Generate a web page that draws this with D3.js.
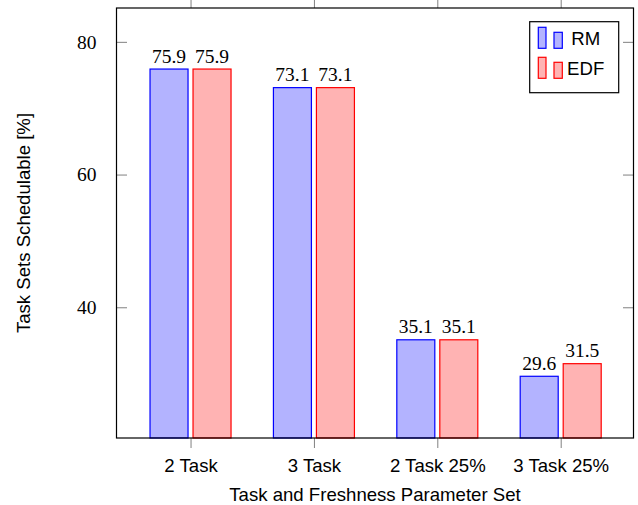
<!DOCTYPE html>
<html>
<head>
<meta charset="utf-8">
<script src="https://cdn.jsdelivr.net/npm/d3@7"></script>
<style>
  body { margin: 0; background: #fff; }
  svg { display: block; }
</style>
</head>
<body>
<div id="chart"></div>
<script>
// chart data
const categories = ['2 Task', '3 Task', '2 Task 25%', '3 Task 25%'];
const rmValues = [75.9, 73.1, 35.1, 29.6];
const edfValues = [75.9, 73.1, 35.1, 31.5];
const yTicks = [40, 60, 80];
const seriesNames = ['RM', 'EDF'];

const W = 638, H = 505;
const margin = {top: 8, right: 4.5, bottom: 67, left: 116.5};
const width = W - margin.left - margin.right;
const height = H - margin.top - margin.bottom;

const svg = d3.select('#chart')
    .append('svg')
    .attr('width', W)
    .attr('height', H);

const g = svg.append('g')
    .attr('transform', `translate(${margin.left},${margin.top})`);

const x = d3.scaleLinear()
    .domain([-0.6, categories.length - 1 + 0.59])
    .range([0, width]);

const y = d3.scaleLinear()
    .domain([20.3, 85.1])
    .range([height, 0]);

const series = [
    {name: seriesNames[0], values: rmValues, fill: '#b3b3ff', stroke: '#0000ff', offset: -21.5},
    {name: seriesNames[1], values: edfValues, fill: '#ffb3b3', stroke: '#ff0000', offset: 21.5}
];
const barW = 38;
const serif = '"Liberation Serif", serif';
const serifSize = '19.5px';
const sans = '"Liberation Sans", Arial, sans-serif';
const sansSize = '18.6px';

// bars
series.forEach(s => {
    g.selectAll(null)
        .data(s.values)
        .enter()
        .append('rect')
        .attr('x', (d, i) => x(i) + s.offset - barW / 2)
        .attr('width', barW)
        .attr('y', d => y(d))
        .attr('height', d => height - y(d))
        .attr('fill', s.fill)
        .attr('stroke', s.stroke)
        .attr('stroke-width', 1.2);

    g.selectAll(null)
        .data(s.values)
        .enter()
        .append('text')
        .attr('x', (d, i) => x(i) + s.offset)
        .attr('y', d => y(d) - 6.5)
        .attr('text-anchor', 'middle')
        .style('font-family', serif)
        .style('font-size', serifSize)
        .text(d => d.toFixed(1));
});

// y ticks (inside, both sides)
const yAxisL = d3.axisLeft(y).tickValues(yTicks).tickSize(-10.5).tickPadding(20);
g.append('g')
    .call(yAxisL)
    .call(a => a.select('.domain').remove())
    .call(a => a.selectAll('line').attr('stroke', '#808080'))
    .call(a => a.selectAll('text')
        .style('font-family', serif)
        .style('font-size', serifSize)
        .attr('fill', '#000'));

g.append('g')
    .attr('transform', `translate(${width},0)`)
    .call(d3.axisRight(y).tickValues(yTicks).tickSize(-10.5).tickFormat(''))
    .call(a => a.select('.domain').remove())
    .call(a => a.selectAll('line').attr('stroke', '#808080'));

// x ticks (outside, both sides)
const xAxisB = d3.axisBottom(x)
    .tickValues(d3.range(categories.length))
    .tickFormat(i => categories[i])
    .tickSize(10)
    .tickPadding(11);
g.append('g')
    .attr('transform', `translate(0,${height})`)
    .call(xAxisB)
    .call(a => a.select('.domain').remove())
    .call(a => a.selectAll('line').attr('stroke', '#808080'))
    .call(a => a.selectAll('text')
        .style('font-family', sans)
        .style('font-size', sansSize)
        .attr('fill', '#000'));

g.append('g')
    .call(d3.axisTop(x).tickValues(d3.range(categories.length)).tickSize(8).tickFormat(''))
    .call(a => a.select('.domain').remove())
    .call(a => a.selectAll('line').attr('stroke', '#808080'));

// frame
g.append('rect')
    .attr('width', width)
    .attr('height', height)
    .attr('fill', 'none')
    .attr('stroke', '#000')
    .attr('stroke-width', 1.2);

// axis labels
svg.append('text')
    .attr('x', margin.left + width / 2)
    .attr('y', 500.5)
    .attr('text-anchor', 'middle')
    .style('font-family', sans)
    .style('font-size', sansSize)
    .text('Task and Freshness Parameter Set');

svg.append('text')
    .attr('transform', `translate(30,${margin.top + height / 2}) rotate(-90)`)
    .attr('text-anchor', 'middle')
    .style('font-family', sans)
    .style('font-size', sansSize)
    .text('Task Sets Schedulable [%]');

// legend
const legend = svg.append('g').attr('transform', 'translate(529.7,21.7)');
legend.append('rect')
    .attr('width', 89)
    .attr('height', 71)
    .attr('fill', '#fff')
    .attr('stroke', '#000')
    .attr('stroke-width', 1.2);

series.forEach((s, i) => {
    const row = legend.append('g').attr('transform', `translate(0,${26.6 + i * 30})`);
    row.append('rect')
        .attr('x', 8.6).attr('y', -21).attr('width', 7.7).attr('height', 21)
        .attr('fill', s.fill).attr('stroke', s.stroke).attr('stroke-width', 1.2);
    row.append('rect')
        .attr('x', 24.3).attr('y', -16).attr('width', 8.3).attr('height', 16)
        .attr('fill', s.fill).attr('stroke', s.stroke).attr('stroke-width', 1.2);
    row.append('text')
        .attr('x', 56)
        .attr('y', -3.5)
        .attr('text-anchor', 'middle')
        .style('font-family', sans)
        .style('font-size', sansSize)
        .text(s.name);
});
</script>
</body>
</html>
